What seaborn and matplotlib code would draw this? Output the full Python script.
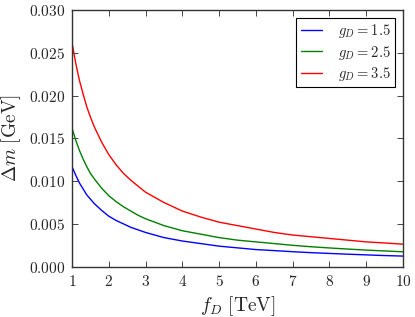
import numpy as np
import pandas as pd
import matplotlib
matplotlib.use("Agg")
import matplotlib.pyplot as plt
from matplotlib.ticker import FuncFormatter, MultipleLocator
import seaborn as sns

# values
f_D = [1, 1.1, 1.2, 1.3, 1.4, 1.5, 1.6, 1.8, 2, 2.2, 2.4, 2.6, 2.8, 3, 3.25,
       3.5, 3.75, 4, 4.5, 5, 5.5, 6, 6.5, 7, 7.5, 8, 8.5, 9, 9.5, 10]
dm_g15 = [0.0117, 0.0107, 0.0098, 0.0091, 0.0084, 0.0079, 0.0074, 0.0066,
          0.0059, 0.0054, 0.0050, 0.0046, 0.0043, 0.0040, 0.0037, 0.0034,
          0.0032, 0.0030, 0.0027, 0.0024, 0.0022, 0.0020, 0.00188, 0.00175,
          0.00164, 0.00155, 0.00146, 0.00138, 0.0013, 0.00124]
dm_g25 = [0.0162, 0.0148, 0.0136, 0.0126, 0.0117, 0.0109, 0.0103, 0.0092,
          0.0083, 0.0076, 0.0070, 0.0065, 0.0060, 0.0056, 0.0052, 0.0048,
          0.0045, 0.0042, 0.0038, 0.0034, 0.0031, 0.0029, 0.0027, 0.0025,
          0.00233, 0.00219, 0.00206, 0.00194, 0.00184, 0.00174]
dm_g35 = [0.0262, 0.0238, 0.0218, 0.0202, 0.0187, 0.0175, 0.0164, 0.0146,
          0.0131, 0.0119, 0.0109, 0.0101, 0.0094, 0.0087, 0.0081, 0.0075,
          0.0070, 0.0065, 0.0058, 0.0052, 0.0048, 0.0044, 0.0040, 0.0037,
          0.0035, 0.0033, 0.0031, 0.0029, 0.00277, 0.00263]
labels = [r"$g_D = 1.5$", r"$g_D = 2.5$", r"$g_D = 3.5$"]
colors = ["#0000ff", "#008000", "#ff0000"]

n = len(f_D)
df = pd.DataFrame({
    "f": f_D * 3,
    "dm": dm_g15 + dm_g25 + dm_g35,
    "g": [labels[0]] * n + [labels[1]] * n + [labels[2]] * n,
})

sns.set_style("ticks")
plt.rcParams["mathtext.fontset"] = "cm"
plt.rcParams["font.family"] = ["DejaVu Serif"]

fig = plt.figure(figsize=(4.15, 3.17), dpi=100)
ax = fig.add_axes([0.1735, 0.1587, 0.7975, 0.81])

sns.lineplot(data=df, x="f", y="dm", hue="g", palette=colors, linewidth=1.0, ax=ax)

ax.set_xlim(1, 10)
ax.set_ylim(0, 0.030)
ax.xaxis.set_major_locator(MultipleLocator(1))
ax.yaxis.set_major_locator(MultipleLocator(0.005))
ax.xaxis.set_major_formatter(FuncFormatter(lambda v, p: "$%d$" % round(v)))
ax.yaxis.set_major_formatter(FuncFormatter(lambda v, p: "$%.3f$" % v))
ax.tick_params(direction="in", top=True, right=True, labelsize=11, length=4,
               width=0.6, pad=5)
for s in ax.spines.values():
    s.set_linewidth(1.0)
    s.set_color("#333333")

ax.set_xlabel(r"$f_D\ \mathrm{[TeV]}$", fontsize=14)
ax.set_ylabel(r"$\Delta m\ \mathrm{[GeV]}$", fontsize=14)

leg = ax.legend(loc="upper right", fontsize=10.5, handlelength=1.45, fancybox=False,
                framealpha=1, edgecolor="black", borderpad=0.3, labelspacing=0.22,
                handletextpad=1.1, borderaxespad=0.55)
leg.get_frame().set_linewidth(0.8)

fig.savefig("out.png", dpi=100)
